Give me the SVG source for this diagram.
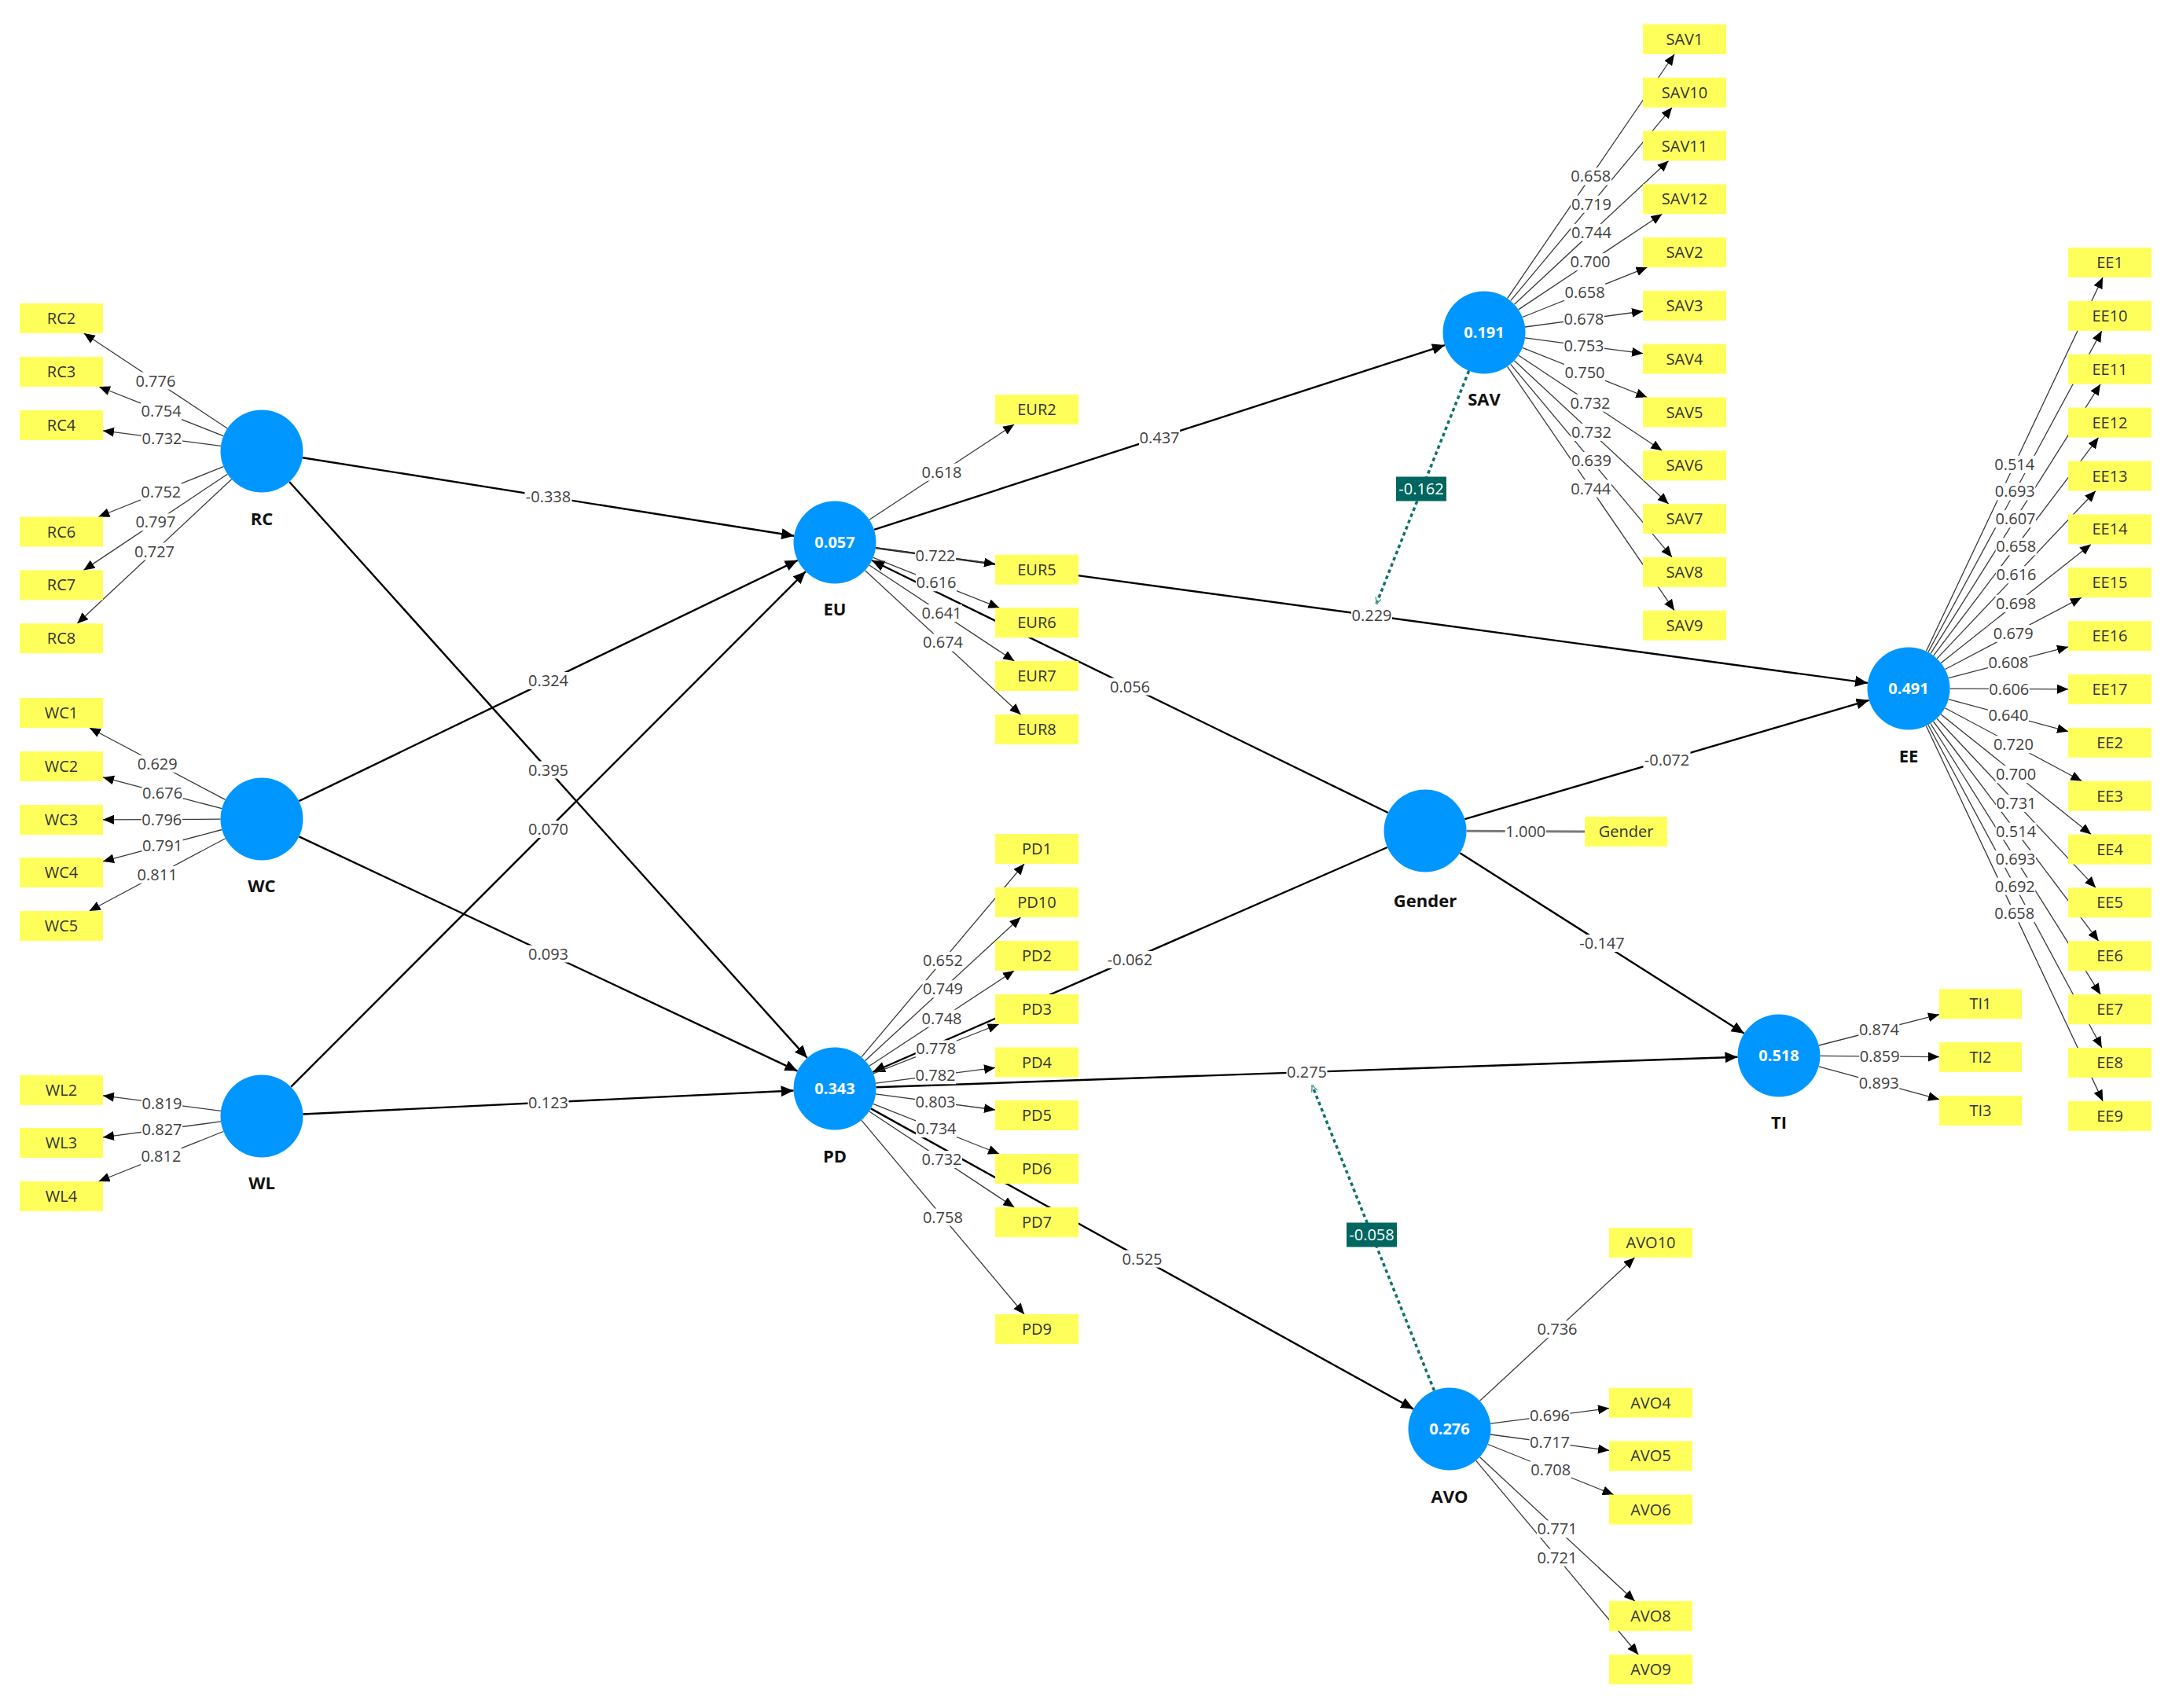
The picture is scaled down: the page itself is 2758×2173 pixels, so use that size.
<svg xmlns="http://www.w3.org/2000/svg" width="2758" height="2173" viewBox="0 0 2758 2173">
<defs>
<marker id="ah" markerUnits="userSpaceOnUse" markerWidth="18" markerHeight="15" refX="16" refY="7" orient="auto"><path d="M0,0 L16,7 L0,14 z" fill="#000"/></marker>
<marker id="ai" markerUnits="userSpaceOnUse" markerWidth="16" markerHeight="13" refX="14" refY="6" orient="auto"><path d="M0,0 L14,6 L0,12 z" fill="#000"/></marker>
<marker id="am" markerUnits="userSpaceOnUse" markerWidth="10" markerHeight="9" refX="8" refY="4" orient="auto"><path d="M0,0 L8,4 L0,8" fill="none" stroke="#5aa7a1" stroke-width="1.5"/></marker>
<style>
.s{stroke:#000;stroke-width:2.4;fill:none;marker-end:url(#ah)}
.i{stroke:#3a3a3a;stroke-width:1.3;fill:none;marker-end:url(#ai)}
.g{stroke:#7a7a7a;stroke-width:3;fill:none}
.m{stroke:#0b726b;stroke-width:3.5;stroke-dasharray:4.5 4;fill:none;marker-end:url(#am)}
.c{fill:#0096ff}
.b{fill:#ffff5c}
text{font-family:"Open Sans","Noto Sans","DejaVu Sans",sans-serif;text-anchor:middle}
.bt{font-size:20px;fill:#333}
.n{font-size:22px;font-weight:bold;fill:#111}
.r{font-size:20px;font-weight:bold;fill:#fff}
.lt{font-size:20px;fill:#404040}
.lb{fill:#fff}
.tb{fill:#00665f}
.tt{font-size:20px;fill:#fff}
</style>
</defs>
<rect width="2758" height="2173" fill="#fff"/>

<g id="connectors">
<g id="structural-paths">
<line class="s" x1="384.8" y1="582.2" x2="1010.2" y2="681.8"/>
<line class="s" x1="368.1" y1="613" x2="1026.9" y2="1346"/>
<line class="s" x1="380.3" y1="1019.2" x2="1014.7" y2="712.8"/>
<line class="s" x1="380.5" y1="1064.3" x2="1014.5" y2="1362.6"/>
<line class="s" x1="370.1" y1="1382.9" x2="1024.9" y2="727.1"/>
<line class="s" x1="385.4" y1="1417.5" x2="1009.6" y2="1387.5"/>
<line class="s" x1="1112" y1="673.9" x2="1838" y2="439.1"/>
<line class="s" x1="1114" y1="697.1" x2="2376" y2="868.9"/>
<line class="s" x1="1765.8" y1="1034" x2="1109.2" y2="713"/>
<line class="s" x1="1764.9" y1="1078" x2="1110.1" y2="1364"/>
<line class="s" x1="1863.4" y1="1042.2" x2="2377.6" y2="890.8"/>
<line class="s" x1="1857.3" y1="1085.2" x2="2218.7" y2="1314.8"/>
<line class="s" x1="1114.5" y1="1383.2" x2="2210.5" y2="1344.8"/>
<line class="s" x1="1107.9" y1="1410.4" x2="1798.1" y2="1792.6"/>
</g>
<g id="moderation-paths">
<line class="m" x1="1868.6" y1="471.8" x2="1751" y2="768"/>
<line class="m" x1="1824.5" y1="1769.2" x2="1669.3" y2="1381"/>
</g>
<g id="indicator-paths">
<line class="i" x1="289.2" y1="545" x2="106.7" y2="424"/>
<line class="i" x1="284.2" y1="554.7" x2="126" y2="492"/>
<line class="i" x1="280.9" y1="567.3" x2="131" y2="547.9"/>
<line class="i" x1="284.3" y1="593.6" x2="125.3" y2="657.5"/>
<line class="i" x1="289.4" y1="603.2" x2="106.4" y2="725.4"/>
<line class="i" x1="294.6" y1="609.8" x2="98.3" y2="793.2"/>
<line class="i" x1="286.6" y1="1017.4" x2="113.9" y2="926"/>
<line class="i" x1="282.2" y1="1028.7" x2="131" y2="988.9"/>
<line class="i" x1="280.5" y1="1042.2" x2="131" y2="1042.8"/>
<line class="i" x1="282.3" y1="1055.5" x2="131" y2="1095.9"/>
<line class="i" x1="286.7" y1="1066.7" x2="113.6" y2="1159"/>
<line class="i" x1="280.9" y1="1413.3" x2="131" y2="1393.9"/>
<line class="i" x1="281" y1="1426.9" x2="131" y2="1446.9"/>
<line class="i" x1="284.2" y1="1439.5" x2="125.5" y2="1503"/>
<line class="i" x1="1105.9" y1="661.2" x2="1290.1" y2="540"/>
<line class="i" x1="1114" y1="697" x2="1266" y2="717.5"/>
<line class="i" x1="1110.8" y1="709.4" x2="1271.3" y2="773.3"/>
<line class="i" x1="1105.8" y1="719" x2="1290.3" y2="841"/>
<line class="i" x1="1100.5" y1="725.7" x2="1298.5" y2="909"/>
<line class="i" x1="1095.8" y1="1344.8" x2="1303" y2="1099"/>
<line class="i" x1="1100.6" y1="1349.4" x2="1298.4" y2="1167"/>
<line class="i" x1="1105.9" y1="1356.2" x2="1290.1" y2="1235"/>
<line class="i" x1="1110.9" y1="1365.8" x2="1270.7" y2="1303"/>
<line class="i" x1="1114.1" y1="1378.2" x2="1266" y2="1358.4"/>
<line class="i" x1="1114" y1="1391.9" x2="1266" y2="1412"/>
<line class="i" x1="1110.8" y1="1404.4" x2="1271.1" y2="1468"/>
<line class="i" x1="1105.8" y1="1414" x2="1290.3" y2="1536"/>
<line class="i" x1="1095.8" y1="1425.2" x2="1303" y2="1672"/>
<line class="i" x1="1917.6" y1="379.7" x2="2130" y2="69"/>
<line class="i" x1="1921.7" y1="382.7" x2="2127.1" y2="136.7"/>
<line class="i" x1="1926.4" y1="387.2" x2="2122.6" y2="204.5"/>
<line class="i" x1="1931.7" y1="393.9" x2="2114.4" y2="272.3"/>
<line class="i" x1="1936.8" y1="403.5" x2="2095.5" y2="340.1"/>
<line class="i" x1="1940" y1="416" x2="2090" y2="396"/>
<line class="i" x1="1940" y1="429.9" x2="2090" y2="449.7"/>
<line class="i" x1="1936.8" y1="442.4" x2="2095.3" y2="505.5"/>
<line class="i" x1="1931.7" y1="452" x2="2114.4" y2="573.3"/>
<line class="i" x1="1926.4" y1="458.7" x2="2122.6" y2="641.1"/>
<line class="i" x1="1921.7" y1="463.3" x2="2127.1" y2="708.9"/>
<line class="i" x1="1917.6" y1="466.3" x2="2130" y2="776.7"/>
<line class="i" x1="2450.4" y1="828.5" x2="2675" y2="353"/>
<line class="i" x1="2452.9" y1="829.8" x2="2673.7" y2="420.9"/>
<line class="i" x1="2456" y1="831.6" x2="2672" y2="488.7"/>
<line class="i" x1="2459.7" y1="834.1" x2="2669.6" y2="556.6"/>
<line class="i" x1="2464.1" y1="837.9" x2="2666" y2="624.5"/>
<line class="i" x1="2469.2" y1="843.4" x2="2660" y2="692.4"/>
<line class="i" x1="2474.5" y1="851.5" x2="2647.9" y2="760.2"/>
<line class="i" x1="2478.8" y1="862.7" x2="2631" y2="822.9"/>
<line class="i" x1="2480.5" y1="876.2" x2="2631" y2="876.8"/>
<line class="i" x1="2478.7" y1="889.6" x2="2631" y2="930.6"/>
<line class="i" x1="2474.3" y1="900.7" x2="2648.4" y2="993.7"/>
<line class="i" x1="2469" y1="908.8" x2="2660.2" y2="1061.6"/>
<line class="i" x1="2464" y1="914.3" x2="2666.1" y2="1129.4"/>
<line class="i" x1="2459.6" y1="918" x2="2669.7" y2="1197.3"/>
<line class="i" x1="2455.9" y1="920.5" x2="2672.1" y2="1265.2"/>
<line class="i" x1="2452.9" y1="922.2" x2="2673.8" y2="1333"/>
<line class="i" x1="2450.4" y1="923.5" x2="2675.1" y2="1400.9"/>
<line class="i" x1="2313.9" y1="1330" x2="2467" y2="1290.7"/>
<line class="i" x1="2315.5" y1="1343.4" x2="2467" y2="1344.6"/>
<line class="i" x1="2313.6" y1="1356.8" x2="2467" y2="1398.7"/>
<line class="i" x1="1882.5" y1="1782.3" x2="2079.5" y2="1600"/>
<line class="i" x1="1896.1" y1="1811.2" x2="2047" y2="1791.6"/>
<line class="i" x1="1896" y1="1825" x2="2047" y2="1845.3"/>
<line class="i" x1="1892.7" y1="1837.5" x2="2052.6" y2="1901.6"/>
<line class="i" x1="1882.5" y1="1853.8" x2="2079.6" y2="2037"/>
<line class="i" x1="1877.7" y1="1858.3" x2="2084.1" y2="2105"/>
<line class="g" x1="1865.5" y1="1057.2" x2="2016" y2="1058"/>
</g>
</g>

<g id="indicators">
<g id="RC2"><rect class="b" x="25" y="386" width="106" height="38"/><text class="bt" x="78" y="412">RC2</text></g>
<g id="RC3"><rect class="b" x="25" y="454" width="106" height="38"/><text class="bt" x="78" y="480">RC3</text></g>
<g id="RC4"><rect class="b" x="25" y="522" width="106" height="38"/><text class="bt" x="78" y="548">RC4</text></g>
<g id="RC6"><rect class="b" x="25" y="657.5" width="106" height="38"/><text class="bt" x="78" y="683.5">RC6</text></g>
<g id="RC7"><rect class="b" x="25" y="725.4" width="106" height="38"/><text class="bt" x="78" y="751.4">RC7</text></g>
<g id="RC8"><rect class="b" x="25" y="793.2" width="106" height="38"/><text class="bt" x="78" y="819.2">RC8</text></g>
<g id="WC1"><rect class="b" x="25" y="888" width="106" height="38"/><text class="bt" x="78" y="914">WC1</text></g>
<g id="WC2"><rect class="b" x="25" y="956" width="106" height="38"/><text class="bt" x="78" y="982">WC2</text></g>
<g id="WC3"><rect class="b" x="25" y="1024" width="106" height="38"/><text class="bt" x="78" y="1050">WC3</text></g>
<g id="WC4"><rect class="b" x="25" y="1091" width="106" height="38"/><text class="bt" x="78" y="1117">WC4</text></g>
<g id="WC5"><rect class="b" x="25" y="1159" width="106" height="38"/><text class="bt" x="78" y="1185">WC5</text></g>
<g id="WL2"><rect class="b" x="25" y="1368" width="106" height="38"/><text class="bt" x="78" y="1394">WL2</text></g>
<g id="WL3"><rect class="b" x="25" y="1435" width="106" height="38"/><text class="bt" x="78" y="1461">WL3</text></g>
<g id="WL4"><rect class="b" x="25" y="1503" width="106" height="38"/><text class="bt" x="78" y="1529">WL4</text></g>
<g id="EUR2"><rect class="b" x="1266" y="502" width="106" height="38"/><text class="bt" x="1319" y="528">EUR2</text></g>
<g id="EUR5"><rect class="b" x="1266" y="705.7" width="106" height="38"/><text class="bt" x="1319" y="731.7">EUR5</text></g>
<g id="EUR6"><rect class="b" x="1266" y="773.3" width="106" height="38"/><text class="bt" x="1319" y="799.3">EUR6</text></g>
<g id="EUR7"><rect class="b" x="1266" y="841" width="106" height="38"/><text class="bt" x="1319" y="867">EUR7</text></g>
<g id="EUR8"><rect class="b" x="1266" y="909" width="106" height="38"/><text class="bt" x="1319" y="935">EUR8</text></g>
<g id="PD1"><rect class="b" x="1266" y="1061" width="106" height="38"/><text class="bt" x="1319" y="1087">PD1</text></g>
<g id="PD10"><rect class="b" x="1266" y="1129" width="106" height="38"/><text class="bt" x="1319" y="1155">PD10</text></g>
<g id="PD2"><rect class="b" x="1266" y="1197" width="106" height="38"/><text class="bt" x="1319" y="1223">PD2</text></g>
<g id="PD3"><rect class="b" x="1266" y="1265" width="106" height="38"/><text class="bt" x="1319" y="1291">PD3</text></g>
<g id="PD4"><rect class="b" x="1266" y="1332.5" width="106" height="38"/><text class="bt" x="1319" y="1358.5">PD4</text></g>
<g id="PD5"><rect class="b" x="1266" y="1400" width="106" height="38"/><text class="bt" x="1319" y="1426">PD5</text></g>
<g id="PD6"><rect class="b" x="1266" y="1468" width="106" height="38"/><text class="bt" x="1319" y="1494">PD6</text></g>
<g id="PD7"><rect class="b" x="1266" y="1536" width="106" height="38"/><text class="bt" x="1319" y="1562">PD7</text></g>
<g id="PD9"><rect class="b" x="1266" y="1672" width="106" height="38"/><text class="bt" x="1319" y="1698">PD9</text></g>
<g id="SAV1"><rect class="b" x="2090" y="31" width="106" height="38"/><text class="bt" x="2143" y="57">SAV1</text></g>
<g id="SAV10"><rect class="b" x="2090" y="98.7" width="106" height="38"/><text class="bt" x="2143" y="124.7">SAV10</text></g>
<g id="SAV11"><rect class="b" x="2090" y="166.5" width="106" height="38"/><text class="bt" x="2143" y="192.5">SAV11</text></g>
<g id="SAV12"><rect class="b" x="2090" y="234.3" width="106" height="38"/><text class="bt" x="2143" y="260.3">SAV12</text></g>
<g id="SAV2"><rect class="b" x="2090" y="302.1" width="106" height="38"/><text class="bt" x="2143" y="328.1">SAV2</text></g>
<g id="SAV3"><rect class="b" x="2090" y="369.9" width="106" height="38"/><text class="bt" x="2143" y="395.9">SAV3</text></g>
<g id="SAV4"><rect class="b" x="2090" y="437.7" width="106" height="38"/><text class="bt" x="2143" y="463.7">SAV4</text></g>
<g id="SAV5"><rect class="b" x="2090" y="505.5" width="106" height="38"/><text class="bt" x="2143" y="531.5">SAV5</text></g>
<g id="SAV6"><rect class="b" x="2090" y="573.3" width="106" height="38"/><text class="bt" x="2143" y="599.3">SAV6</text></g>
<g id="SAV7"><rect class="b" x="2090" y="641.1" width="106" height="38"/><text class="bt" x="2143" y="667.1">SAV7</text></g>
<g id="SAV8"><rect class="b" x="2090" y="708.9" width="106" height="38"/><text class="bt" x="2143" y="734.9">SAV8</text></g>
<g id="SAV9"><rect class="b" x="2090" y="776.7" width="106" height="38"/><text class="bt" x="2143" y="802.7">SAV9</text></g>
<g id="EE1"><rect class="b" x="2631" y="315" width="106" height="38"/><text class="bt" x="2684" y="341">EE1</text></g>
<g id="EE10"><rect class="b" x="2631" y="382.9" width="106" height="38"/><text class="bt" x="2684" y="408.9">EE10</text></g>
<g id="EE11"><rect class="b" x="2631" y="450.7" width="106" height="38"/><text class="bt" x="2684" y="476.7">EE11</text></g>
<g id="EE12"><rect class="b" x="2631" y="518.6" width="106" height="38"/><text class="bt" x="2684" y="544.6">EE12</text></g>
<g id="EE13"><rect class="b" x="2631" y="586.5" width="106" height="38"/><text class="bt" x="2684" y="612.5">EE13</text></g>
<g id="EE14"><rect class="b" x="2631" y="654.4" width="106" height="38"/><text class="bt" x="2684" y="680.4">EE14</text></g>
<g id="EE15"><rect class="b" x="2631" y="722.2" width="106" height="38"/><text class="bt" x="2684" y="748.2">EE15</text></g>
<g id="EE16"><rect class="b" x="2631" y="790.1" width="106" height="38"/><text class="bt" x="2684" y="816.1">EE16</text></g>
<g id="EE17"><rect class="b" x="2631" y="858" width="106" height="38"/><text class="bt" x="2684" y="884">EE17</text></g>
<g id="EE2"><rect class="b" x="2631" y="925.8" width="106" height="38"/><text class="bt" x="2684" y="951.8">EE2</text></g>
<g id="EE3"><rect class="b" x="2631" y="993.7" width="106" height="38"/><text class="bt" x="2684" y="1019.7">EE3</text></g>
<g id="EE4"><rect class="b" x="2631" y="1061.6" width="106" height="38"/><text class="bt" x="2684" y="1087.6">EE4</text></g>
<g id="EE5"><rect class="b" x="2631" y="1129.4" width="106" height="38"/><text class="bt" x="2684" y="1155.4">EE5</text></g>
<g id="EE6"><rect class="b" x="2631" y="1197.3" width="106" height="38"/><text class="bt" x="2684" y="1223.3">EE6</text></g>
<g id="EE7"><rect class="b" x="2631" y="1265.2" width="106" height="38"/><text class="bt" x="2684" y="1291.2">EE7</text></g>
<g id="EE8"><rect class="b" x="2631" y="1333" width="106" height="38"/><text class="bt" x="2684" y="1359">EE8</text></g>
<g id="EE9"><rect class="b" x="2631" y="1400.9" width="106" height="38"/><text class="bt" x="2684" y="1426.9">EE9</text></g>
<g id="TI1"><rect class="b" x="2467" y="1258.3" width="105" height="38"/><text class="bt" x="2519.5" y="1284.3">TI1</text></g>
<g id="TI2"><rect class="b" x="2467" y="1326" width="105" height="38"/><text class="bt" x="2519.5" y="1352">TI2</text></g>
<g id="TI3"><rect class="b" x="2467" y="1394" width="105" height="38"/><text class="bt" x="2519.5" y="1420">TI3</text></g>
<g id="AVO10"><rect class="b" x="2047" y="1562" width="106" height="38"/><text class="bt" x="2100" y="1588">AVO10</text></g>
<g id="AVO4"><rect class="b" x="2047" y="1765.7" width="106" height="38"/><text class="bt" x="2100" y="1791.7">AVO4</text></g>
<g id="AVO5"><rect class="b" x="2047" y="1833.4" width="106" height="38"/><text class="bt" x="2100" y="1859.4">AVO5</text></g>
<g id="AVO6"><rect class="b" x="2047" y="1901.6" width="106" height="38"/><text class="bt" x="2100" y="1927.6">AVO6</text></g>
<g id="AVO8"><rect class="b" x="2047" y="2037" width="106" height="38"/><text class="bt" x="2100" y="2063">AVO8</text></g>
<g id="AVO9"><rect class="b" x="2047" y="2105" width="106" height="38"/><text class="bt" x="2100" y="2131">AVO9</text></g>
<g id="Gender-item"><rect class="b" x="2016" y="1039" width="105" height="38"/><text class="bt" x="2068.5" y="1065">Gender</text></g>
</g>

<g id="constructs">
<g id="RC"><circle class="c" cx="333" cy="574" r="52.5"/><text class="n" x="333" y="668">RC</text></g>
<g id="WC"><circle class="c" cx="333" cy="1042" r="52.5"/><text class="n" x="333" y="1135">WC</text></g>
<g id="WL"><circle class="c" cx="333" cy="1420" r="52.5"/><text class="n" x="333" y="1513">WL</text></g>
<g id="EU"><circle class="c" cx="1062" cy="690" r="52.5"/><text class="r" x="1062" y="697">0.057</text><text class="n" x="1062" y="783">EU</text></g>
<g id="PD"><circle class="c" cx="1062" cy="1385" r="52.5"/><text class="r" x="1062" y="1392">0.343</text><text class="n" x="1062" y="1479">PD</text></g>
<g id="SAV"><circle class="c" cx="1888" cy="423" r="52.5"/><text class="r" x="1888" y="430">0.191</text><text class="n" x="1888" y="516">SAV</text></g>
<g id="EE"><circle class="c" cx="2428" cy="876" r="52.5"/><text class="r" x="2428" y="883">0.491</text><text class="n" x="2428" y="970">EE</text></g>
<g id="Gender"><circle class="c" cx="1813" cy="1057" r="52.5"/><text class="n" x="1813" y="1154">Gender</text></g>
<g id="TI"><circle class="c" cx="2263" cy="1343" r="52.5"/><text class="r" x="2263" y="1350">0.518</text><text class="n" x="2263" y="1436">TI</text></g>
<g id="AVO"><circle class="c" cx="1844" cy="1818" r="52.5"/><text class="r" x="1844" y="1825">0.276</text><text class="n" x="1844" y="1912">AVO</text></g>
</g>

<g id="connector-labels">
<g transform="translate(697.5,632)"><rect class="lb" x="-30" y="-11" width="60" height="22"/><text class="lt" y="7">-0.338</text></g>
<g transform="translate(697.5,979.5)"><rect class="lb" x="-26" y="-11" width="52" height="22"/><text class="lt" y="7">0.395</text></g>
<g transform="translate(697.5,866)"><rect class="lb" x="-26" y="-11" width="52" height="22"/><text class="lt" y="7">0.324</text></g>
<g transform="translate(697.5,1213.5)"><rect class="lb" x="-26" y="-11" width="52" height="22"/><text class="lt" y="7">0.093</text></g>
<g transform="translate(697.5,1055)"><rect class="lb" x="-26" y="-11" width="52" height="22"/><text class="lt" y="7">0.070</text></g>
<g transform="translate(697.5,1402.5)"><rect class="lb" x="-26" y="-11" width="52" height="22"/><text class="lt" y="7">0.123</text></g>
<g transform="translate(1475,556.5)"><rect class="lb" x="-26" y="-11" width="52" height="22"/><text class="lt" y="7">0.437</text></g>
<g transform="translate(1745,783)"><rect class="lb" x="-26" y="-11" width="52" height="22"/><text class="lt" y="7">0.229</text></g>
<g transform="translate(1437.5,873.5)"><rect class="lb" x="-26" y="-11" width="52" height="22"/><text class="lt" y="7">0.056</text></g>
<g transform="translate(1437.5,1221)"><rect class="lb" x="-30" y="-11" width="60" height="22"/><text class="lt" y="7">-0.062</text></g>
<g transform="translate(2120.5,966.5)"><rect class="lb" x="-30" y="-11" width="60" height="22"/><text class="lt" y="7">-0.072</text></g>
<g transform="translate(2038,1200)"><rect class="lb" x="-30" y="-11" width="60" height="22"/><text class="lt" y="7">-0.147</text></g>
<g transform="translate(1662.5,1364)"><rect class="lb" x="-26" y="-11" width="52" height="22"/><text class="lt" y="7">0.275</text></g>
<g transform="translate(1453,1601.5)"><rect class="lb" x="-26" y="-11" width="52" height="22"/><text class="lt" y="7">0.525</text></g>
<g transform="translate(1808,622)"><rect class="tb" x="-32" y="-15.5" width="64" height="31"/><text class="tt" y="7">-0.162</text></g>
<g transform="translate(1745,1571)"><rect class="tb" x="-32" y="-15.5" width="64" height="31"/><text class="tt" y="7">-0.058</text></g>
<g transform="translate(1940.8,1057.6)"><rect class="lb" x="-26" y="-11" width="52" height="22"/><text class="lt" y="7">1.000</text></g>
<g transform="translate(197.9,484.5)"><rect class="lb" x="-26" y="-11" width="52" height="22"/><text class="lt" y="7">0.776</text></g>
<g transform="translate(205.1,523.4)"><rect class="lb" x="-26" y="-11" width="52" height="22"/><text class="lt" y="7">0.754</text></g>
<g transform="translate(206,557.6)"><rect class="lb" x="-26" y="-11" width="52" height="22"/><text class="lt" y="7">0.732</text></g>
<g transform="translate(204.8,625.5)"><rect class="lb" x="-26" y="-11" width="52" height="22"/><text class="lt" y="7">0.752</text></g>
<g transform="translate(197.9,664.3)"><rect class="lb" x="-26" y="-11" width="52" height="22"/><text class="lt" y="7">0.797</text></g>
<g transform="translate(196.5,701.5)"><rect class="lb" x="-26" y="-11" width="52" height="22"/><text class="lt" y="7">0.727</text></g>
<g transform="translate(200.2,971.7)"><rect class="lb" x="-26" y="-11" width="52" height="22"/><text class="lt" y="7">0.629</text></g>
<g transform="translate(206.6,1008.8)"><rect class="lb" x="-26" y="-11" width="52" height="22"/><text class="lt" y="7">0.676</text></g>
<g transform="translate(205.8,1042.5)"><rect class="lb" x="-26" y="-11" width="52" height="22"/><text class="lt" y="7">0.796</text></g>
<g transform="translate(206.6,1075.7)"><rect class="lb" x="-26" y="-11" width="52" height="22"/><text class="lt" y="7">0.791</text></g>
<g transform="translate(200.1,1112.8)"><rect class="lb" x="-26" y="-11" width="52" height="22"/><text class="lt" y="7">0.811</text></g>
<g transform="translate(206,1403.6)"><rect class="lb" x="-26" y="-11" width="52" height="22"/><text class="lt" y="7">0.819</text></g>
<g transform="translate(206,1436.9)"><rect class="lb" x="-26" y="-11" width="52" height="22"/><text class="lt" y="7">0.827</text></g>
<g transform="translate(204.9,1471.3)"><rect class="lb" x="-26" y="-11" width="52" height="22"/><text class="lt" y="7">0.812</text></g>
<g transform="translate(1198,600.6)"><rect class="lb" x="-26" y="-11" width="52" height="22"/><text class="lt" y="7">0.618</text></g>
<g transform="translate(1190,707.3)"><rect class="lb" x="-26" y="-11" width="52" height="22"/><text class="lt" y="7">0.722</text></g>
<g transform="translate(1191,741.3)"><rect class="lb" x="-26" y="-11" width="52" height="22"/><text class="lt" y="7">0.616</text></g>
<g transform="translate(1198,780)"><rect class="lb" x="-26" y="-11" width="52" height="22"/><text class="lt" y="7">0.641</text></g>
<g transform="translate(1199.5,817.4)"><rect class="lb" x="-26" y="-11" width="52" height="22"/><text class="lt" y="7">0.674</text></g>
<g transform="translate(1199.4,1221.9)"><rect class="lb" x="-26" y="-11" width="52" height="22"/><text class="lt" y="7">0.652</text></g>
<g transform="translate(1199.5,1258.2)"><rect class="lb" x="-26" y="-11" width="52" height="22"/><text class="lt" y="7">0.749</text></g>
<g transform="translate(1198,1295.6)"><rect class="lb" x="-26" y="-11" width="52" height="22"/><text class="lt" y="7">0.748</text></g>
<g transform="translate(1190.8,1334.4)"><rect class="lb" x="-26" y="-11" width="52" height="22"/><text class="lt" y="7">0.778</text></g>
<g transform="translate(1190,1368.3)"><rect class="lb" x="-26" y="-11" width="52" height="22"/><text class="lt" y="7">0.782</text></g>
<g transform="translate(1190,1402)"><rect class="lb" x="-26" y="-11" width="52" height="22"/><text class="lt" y="7">0.803</text></g>
<g transform="translate(1191,1436.2)"><rect class="lb" x="-26" y="-11" width="52" height="22"/><text class="lt" y="7">0.734</text></g>
<g transform="translate(1198,1475)"><rect class="lb" x="-26" y="-11" width="52" height="22"/><text class="lt" y="7">0.732</text></g>
<g transform="translate(1199.4,1548.6)"><rect class="lb" x="-26" y="-11" width="52" height="22"/><text class="lt" y="7">0.758</text></g>
<g transform="translate(2023.8,224.4)"><rect class="lb" x="-26" y="-11" width="52" height="22"/><text class="lt" y="7">0.658</text></g>
<g transform="translate(2024.4,259.7)"><rect class="lb" x="-26" y="-11" width="52" height="22"/><text class="lt" y="7">0.719</text></g>
<g transform="translate(2024.5,295.9)"><rect class="lb" x="-26" y="-11" width="52" height="22"/><text class="lt" y="7">0.744</text></g>
<g transform="translate(2023,333.1)"><rect class="lb" x="-26" y="-11" width="52" height="22"/><text class="lt" y="7">0.700</text></g>
<g transform="translate(2016.1,371.8)"><rect class="lb" x="-26" y="-11" width="52" height="22"/><text class="lt" y="7">0.658</text></g>
<g transform="translate(2015,406)"><rect class="lb" x="-26" y="-11" width="52" height="22"/><text class="lt" y="7">0.678</text></g>
<g transform="translate(2015,439.8)"><rect class="lb" x="-26" y="-11" width="52" height="22"/><text class="lt" y="7">0.753</text></g>
<g transform="translate(2016,474)"><rect class="lb" x="-26" y="-11" width="52" height="22"/><text class="lt" y="7">0.750</text></g>
<g transform="translate(2023,512.7)"><rect class="lb" x="-26" y="-11" width="52" height="22"/><text class="lt" y="7">0.732</text></g>
<g transform="translate(2024.5,549.9)"><rect class="lb" x="-26" y="-11" width="52" height="22"/><text class="lt" y="7">0.732</text></g>
<g transform="translate(2024.4,586.1)"><rect class="lb" x="-26" y="-11" width="52" height="22"/><text class="lt" y="7">0.639</text></g>
<g transform="translate(2023.8,621.5)"><rect class="lb" x="-26" y="-11" width="52" height="22"/><text class="lt" y="7">0.744</text></g>
<g transform="translate(2562.7,590.8)"><rect class="lb" x="-26" y="-11" width="52" height="22"/><text class="lt" y="7">0.514</text></g>
<g transform="translate(2563.3,625.4)"><rect class="lb" x="-26" y="-11" width="52" height="22"/><text class="lt" y="7">0.693</text></g>
<g transform="translate(2564,660.2)"><rect class="lb" x="-26" y="-11" width="52" height="22"/><text class="lt" y="7">0.607</text></g>
<g transform="translate(2564.7,695.4)"><rect class="lb" x="-26" y="-11" width="52" height="22"/><text class="lt" y="7">0.658</text></g>
<g transform="translate(2565,731.2)"><rect class="lb" x="-26" y="-11" width="52" height="22"/><text class="lt" y="7">0.616</text></g>
<g transform="translate(2564.6,767.9)"><rect class="lb" x="-26" y="-11" width="52" height="22"/><text class="lt" y="7">0.698</text></g>
<g transform="translate(2561.2,805.9)"><rect class="lb" x="-26" y="-11" width="52" height="22"/><text class="lt" y="7">0.679</text></g>
<g transform="translate(2554.9,842.8)"><rect class="lb" x="-26" y="-11" width="52" height="22"/><text class="lt" y="7">0.608</text></g>
<g transform="translate(2555.8,876.5)"><rect class="lb" x="-26" y="-11" width="52" height="22"/><text class="lt" y="7">0.606</text></g>
<g transform="translate(2554.9,910.1)"><rect class="lb" x="-26" y="-11" width="52" height="22"/><text class="lt" y="7">0.640</text></g>
<g transform="translate(2561.4,947.2)"><rect class="lb" x="-26" y="-11" width="52" height="22"/><text class="lt" y="7">0.720</text></g>
<g transform="translate(2564.6,985.2)"><rect class="lb" x="-26" y="-11" width="52" height="22"/><text class="lt" y="7">0.700</text></g>
<g transform="translate(2565,1021.9)"><rect class="lb" x="-26" y="-11" width="52" height="22"/><text class="lt" y="7">0.731</text></g>
<g transform="translate(2564.6,1057.6)"><rect class="lb" x="-26" y="-11" width="52" height="22"/><text class="lt" y="7">0.514</text></g>
<g transform="translate(2564,1092.9)"><rect class="lb" x="-26" y="-11" width="52" height="22"/><text class="lt" y="7">0.693</text></g>
<g transform="translate(2563.3,1127.6)"><rect class="lb" x="-26" y="-11" width="52" height="22"/><text class="lt" y="7">0.692</text></g>
<g transform="translate(2562.7,1162.2)"><rect class="lb" x="-26" y="-11" width="52" height="22"/><text class="lt" y="7">0.658</text></g>
<g transform="translate(2390.4,1310.3)"><rect class="lb" x="-26" y="-11" width="52" height="22"/><text class="lt" y="7">0.874</text></g>
<g transform="translate(2391.2,1344)"><rect class="lb" x="-26" y="-11" width="52" height="22"/><text class="lt" y="7">0.859</text></g>
<g transform="translate(2390.3,1377.8)"><rect class="lb" x="-26" y="-11" width="52" height="22"/><text class="lt" y="7">0.893</text></g>
<g transform="translate(1981,1691.2)"><rect class="lb" x="-26" y="-11" width="52" height="22"/><text class="lt" y="7">0.736</text></g>
<g transform="translate(1971.5,1801.4)"><rect class="lb" x="-26" y="-11" width="52" height="22"/><text class="lt" y="7">0.696</text></g>
<g transform="translate(1971.5,1835.2)"><rect class="lb" x="-26" y="-11" width="52" height="22"/><text class="lt" y="7">0.717</text></g>
<g transform="translate(1972.7,1869.6)"><rect class="lb" x="-26" y="-11" width="52" height="22"/><text class="lt" y="7">0.708</text></g>
<g transform="translate(1981,1945.4)"><rect class="lb" x="-26" y="-11" width="52" height="22"/><text class="lt" y="7">0.771</text></g>
<g transform="translate(1980.9,1981.7)"><rect class="lb" x="-26" y="-11" width="52" height="22"/><text class="lt" y="7">0.721</text></g>
</g>
</svg>
